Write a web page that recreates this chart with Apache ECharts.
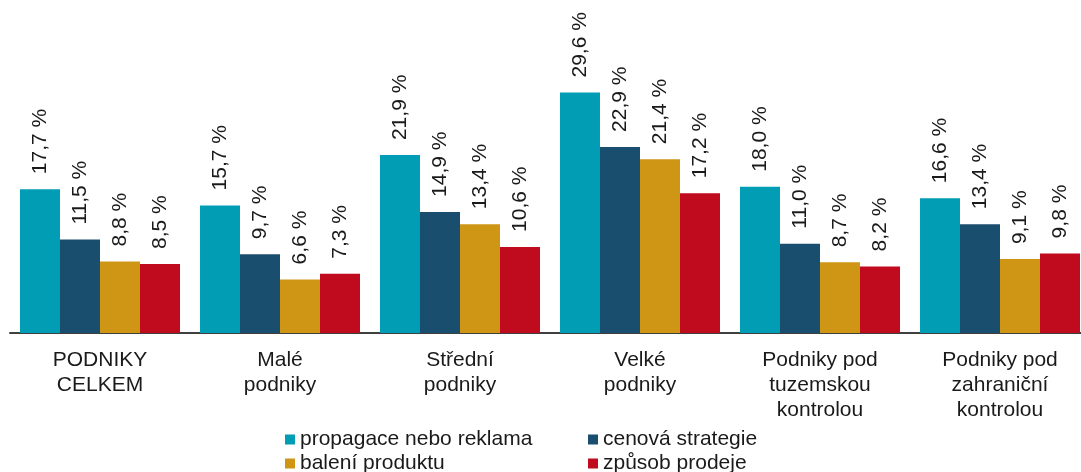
<!DOCTYPE html>
<html>
<head>
<meta charset="utf-8">
<script src="https://cdn.jsdelivr.net/npm/echarts@6/dist/echarts.min.js"></script>
<style>
  html, body { margin: 0; padding: 0; background: #fff; }
  #chart { width: 1081px; height: 472px; }
</style>
</head>
<body>
<div id="chart"></div>
<script>
// kategorie podniků
const categories = ['PODNIKY\nCELKEM', 'Malé\npodniky', 'Střední\npodniky', 'Velké\npodniky',
  'Podniky pod\ntuzemskou\nkontrolou', 'Podniky pod\nzahraniční\nkontrolou']
// hodnoty v %
const propagace = [17.7, 15.7, 21.9, 29.6, 18.0, 16.6]
const cenova = [11.5, 9.7, 14.9, 22.9, 11.0, 13.4]
const baleni = [8.8, 6.6, 13.4, 21.4, 8.7, 9.1]
const zpusob = [8.5, 7.3, 10.6, 17.2, 8.2, 9.8]

const seriesNames = ['propagace nebo reklama', 'cenová strategie', 'balení produktu', 'způsob prodeje']
const colors = ['#009DB5', '#1A4E6E', '#CE9614', '#C00B1E']
const font = 'Liberation Sans, Arial, sans-serif'
const fs = 21

const fmt = (p) => p.value.toFixed(1).replace('.', ',') + ' %'

const makeSeries = (name, data, color) => ({
  name: name,
  type: 'bar',
  data: data,
  barGap: '0%',
  barCategoryGap: '11.1%',
  itemStyle: { color: color },
  label: {
    show: true,
    position: 'top',
    rotate: 90,
    align: 'left',
    verticalAlign: 'middle',
    distance: 15,
    formatter: fmt,
    fontFamily: font,
    fontSize: fs,
    color: '#1a1a1a'
  }
})

// jedna položka legendy na pozici
const makeLegend = (name, left, top) => ({
  orient: 'horizontal', left: left, top: top, padding: 0,
  itemWidth: 10, itemHeight: 10, icon: 'rect', itemGap: 5,
  textStyle: { fontFamily: font, fontSize: fs, color: '#1a1a1a' },
  data: [name]
})

const myChart = echarts.init(document.getElementById('chart'))

const option = {
  animation: false,
  color: colors,
  grid: { left: 10, right: -9, top: 8, bottom: 139, containLabel: false, outerBoundsMode: 'none' },
  legend: [
    makeLegend(seriesNames[0], 285, 429),
    makeLegend(seriesNames[2], 285, 453),
    makeLegend(seriesNames[1], 588, 429),
    makeLegend(seriesNames[3], 588, 453)
  ],
  xAxis: {
    type: 'category',
    data: categories,
    axisLine: { lineStyle: { color: '#404040', width: 2 } },
    axisTick: { show: false },
    axisLabel: {
      interval: 0,
      margin: 15,
      fontFamily: font,
      fontSize: fs,
      lineHeight: 25,
      color: '#1a1a1a'
    }
  },
  yAxis: {
    type: 'value',
    min: 0,
    max: 40,
    show: false,
    splitLine: { show: false }
  },
  series: [
    makeSeries(seriesNames[0], propagace, colors[0]),
    makeSeries(seriesNames[1], cenova, colors[1]),
    makeSeries(seriesNames[2], baleni, colors[2]),
    makeSeries(seriesNames[3], zpusob, colors[3])
  ]
}

myChart.setOption(option, true)
window.onresize = myChart.resize
</script>
</body>
</html>
